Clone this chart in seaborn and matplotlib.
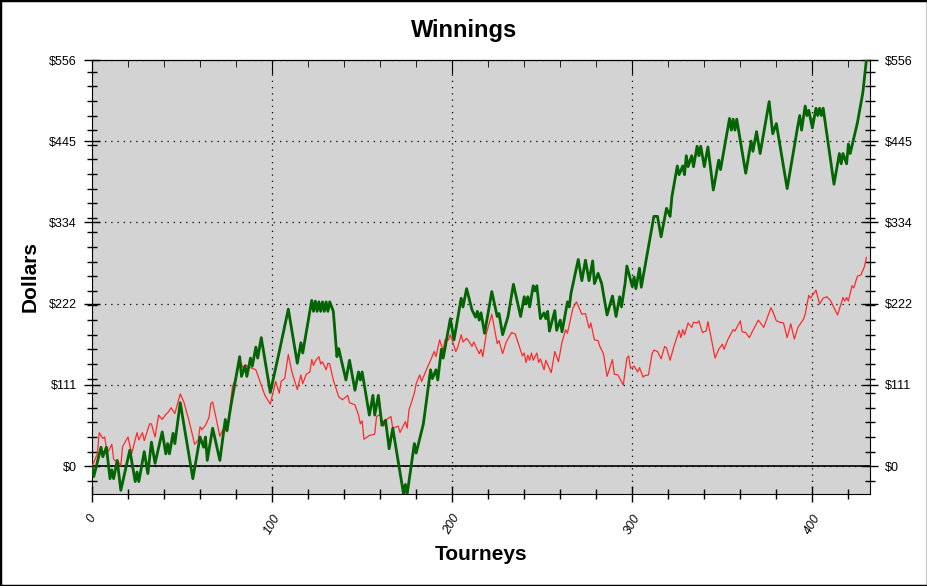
import numpy as np
import pandas as pd
import matplotlib
matplotlib.use('Agg')
import matplotlib.pyplot as plt
import matplotlib.patches as patches
from matplotlib.ticker import MultipleLocator, FixedLocator
import seaborn as sns

# Winnings (tourney number, dollars)
green_t = [0, 1, 5, 6, 8, 10, 11, 12, 14, 16, 21, 24, 25, 26, 29, 31, 33, 35, 39, 41,
           42, 43, 45, 46, 49, 56, 60, 62, 63, 64, 67, 71, 74, 75, 77, 82, 83, 85, 86, 88,
           89, 91, 92, 94, 99, 104, 109, 114, 116, 117, 122, 123, 124, 125, 126, 127, 128, 129, 130, 131,
           132, 134, 136, 137, 138, 141, 143, 146, 148, 149, 150, 154, 156, 157, 159, 161, 163, 165, 167, 173,
           174, 175, 179, 180, 184, 188, 189, 191, 192, 194, 195, 199, 201, 205, 206, 208, 211, 213, 214, 215,
           216, 218, 222, 225, 226, 228, 231, 234, 238, 240, 241, 242, 243, 245, 246, 247, 249, 251, 252, 253,
           254, 257, 258, 260, 261, 264, 265, 266, 270, 272, 274, 276, 278, 279, 281, 283, 286, 289, 291, 293,
           294, 296, 297, 300, 301, 302, 304, 305, 309, 312, 314, 316, 319, 321, 322, 325, 326, 328, 329, 330,
           331, 333, 334, 336, 337, 338, 340, 342, 345, 348, 349, 354, 355, 356, 357, 358, 363, 366, 367, 369,
           371, 376, 378, 380, 386, 392, 393, 394, 396, 397, 398, 400, 402, 403, 404, 405, 406, 412, 415, 416,
           417, 419, 420, 421, 425, 428, 430]
green_v = [0, -14, 26, 13, 26, -17, -5, -17, 8, -33, 22, -21, -8, -21, 20, -10, 33, 4, 47, 17,
           31, 17, 45, 31, 87, -17, 40, 26, 40, 8, 52, 8, 64, 49, 81, 150, 123, 137, 123, 148,
           137, 163, 148, 176, 101, 157, 215, 141, 169, 155, 227, 212, 226, 212, 225, 212, 225, 212, 225, 212,
           225, 212, 150, 161, 150, 118, 145, 104, 129, 118, 129, 70, 97, 70, 97, 56, 63, 24, 52, -38,
           -25, -38, 31, 18, 58, 132, 120, 132, 118, 160, 148, 202, 173, 230, 218, 243, 214, 204, 212, 200,
           210, 182, 239, 205, 209, 180, 205, 249, 205, 232, 222, 232, 218, 247, 240, 247, 202, 210, 202, 212,
           185, 213, 186, 200, 184, 225, 218, 237, 283, 254, 282, 254, 281, 250, 264, 250, 207, 233, 205, 232,
           218, 250, 274, 246, 259, 243, 271, 245, 300, 342, 342, 314, 353, 342, 369, 411, 399, 411, 399, 425,
           410, 425, 410, 438, 425, 438, 410, 437, 378, 419, 406, 476, 460, 475, 460, 475, 401, 445, 431, 458,
           428, 499, 455, 469, 380, 467, 480, 460, 493, 480, 487, 463, 490, 480, 490, 480, 490, 386, 428, 414,
           428, 414, 441, 428, 470, 511, 556]

red_t = [0, 3, 4, 6, 7, 8, 9, 11, 12, 13, 14, 16, 17, 20, 22, 25, 26, 28, 29, 32,
         33, 35, 37, 39, 41, 42, 44, 46, 49, 51, 54, 57, 59, 60, 61, 63, 65, 66, 67, 71,
         73, 75, 78, 80, 82, 84, 85, 87, 89, 91, 92, 93, 96, 99, 102, 104, 105, 107, 109, 111,
         114, 116, 117, 119, 121, 122, 123, 124, 126, 127, 128, 130, 131, 132, 134, 137, 139, 142, 143, 146,
         148, 149, 150, 151, 154, 157, 158, 160, 162, 164, 166, 167, 170, 171, 174, 175, 176, 179, 180, 182,
         183, 186, 188, 190, 191, 193, 195, 196, 198, 199, 202, 203, 205, 206, 208, 209, 211, 212, 215, 216,
         217, 219, 222, 225, 226, 228, 230, 233, 235, 239, 240, 241, 242, 243, 244, 245, 247, 248, 249, 251,
         252, 255, 257, 259, 261, 263, 264, 267, 269, 272, 274, 276, 277, 279, 281, 282, 284, 286, 289, 290,
         292, 295, 297, 298, 299, 301, 303, 304, 306, 307, 309, 311, 312, 314, 316, 318, 319, 321, 323, 326,
         327, 328, 329, 331, 333, 334, 336, 337, 339, 341, 342, 346, 348, 350, 351, 353, 356, 357, 360, 361,
         363, 365, 367, 370, 373, 377, 378, 380, 382, 384, 386, 388, 390, 392, 395, 396, 398, 399, 402, 404,
         406, 408, 410, 414, 417, 418, 419, 420, 422, 423, 425, 427, 429, 430]
red_v = [0, 17, 46, 38, 40, 26, 20, 30, 10, 7, 8, 1, 27, 40, 17, 46, 36, 46, 35, 58,
         58, 40, 70, 64, 71, 73, 80, 72, 99, 88, 61, 30, 36, 54, 50, 56, 67, 86, 88, 41,
         52, 47, 109, 122, 146, 134, 139, 136, 134, 132, 125, 118, 97, 85, 116, 100, 116, 120, 153, 129,
         105, 125, 113, 126, 129, 146, 138, 144, 150, 140, 143, 132, 141, 140, 118, 95, 91, 97, 87, 84,
         70, 58, 62, 37, 42, 44, 68, 71, 55, 65, 68, 52, 55, 46, 61, 52, 77, 100, 113, 125,
         116, 134, 145, 157, 150, 173, 158, 173, 173, 180, 157, 162, 180, 170, 175, 172, 164, 170, 154, 160,
         150, 182, 208, 168, 172, 154, 170, 183, 181, 151, 155, 142, 152, 145, 155, 145, 155, 142, 147, 132,
         145, 128, 157, 143, 170, 187, 182, 216, 225, 208, 209, 189, 196, 173, 172, 164, 154, 123, 146, 126,
         125, 111, 148, 151, 134, 137, 129, 135, 122, 124, 125, 154, 159, 157, 147, 164, 162, 145, 163, 186,
         176, 187, 180, 196, 190, 197, 196, 199, 183, 185, 198, 148, 160, 167, 160, 173, 187, 185, 199, 184,
         183, 176, 186, 200, 190, 217, 212, 199, 197, 196, 176, 195, 174, 190, 201, 208, 234, 230, 241, 222,
         230, 232, 227, 207, 231, 226, 231, 226, 247, 244, 260, 262, 274, 286]

x_ticks = [0, 100, 200, 300, 400]
y_ticks = [0, 111.2, 222.4, 333.6, 444.8, 556]
y_labels = ['$0', '$111', '$222', '$334', '$445', '$556']

sns.set_style('ticks', {'axes.facecolor': '#d3d3d3', 'axes.edgecolor': 'black'})
plt.rcParams['font.family'] = ['Liberation Sans', 'DejaVu Sans']
plt.rcParams.update({'text.color': 'black', 'axes.labelcolor': 'black',
                     'xtick.color': 'black', 'ytick.color': 'black'})

fig = plt.figure(figsize=(9.28, 5.86), dpi=100)
ax = fig.add_axes([92 / 928, 1 - 494 / 586, 778 / 928, 434 / 586])

df_red = pd.DataFrame({'Tourneys': red_t, 'Dollars': red_v})
df_green = pd.DataFrame({'Tourneys': green_t, 'Dollars': green_v})

ax.axhline(0, color='black', lw=1.2, zorder=1.5)
sns.lineplot(data=df_red, x='Tourneys', y='Dollars', color='#ff2a2a', lw=0.9, ax=ax, zorder=3)
sns.lineplot(data=df_green, x='Tourneys', y='Dollars', color='#006400', lw=2.0, ax=ax, zorder=4)

ax.set_xlim(0, 432)
ax.set_ylim(min(green_v), max(green_v))

ax.xaxis.set_major_locator(FixedLocator(x_ticks))
ax.xaxis.set_minor_locator(MultipleLocator(20))
ax.set_yticks(y_ticks, y_labels)
ax.yaxis.set_minor_locator(MultipleLocator(20))

ax.grid(True, which='major', color='black', linestyle=(0, (1, 4)), linewidth=0.9)
ax.tick_params(which='major', direction='inout', length=12, width=1, labelsize=9)
ax.tick_params(which='minor', direction='inout', length=7, width=1)
ax.tick_params(axis='y', right=True, labelright=True, which='both')
ax.tick_params(axis='y', pad=5)
ax.tick_params(axis='x', labelrotation=60, pad=7, labelsize=9)
for lbl in ax.get_xticklabels():
    lbl.set_fontstyle('italic')

top = ax.secondary_xaxis('top')
top.xaxis.set_major_locator(FixedLocator(x_ticks))
top.xaxis.set_minor_locator(MultipleLocator(20))
top.tick_params(which='major', direction='in', length=10, labeltop=False)
top.tick_params(which='minor', direction='in', length=5)

ax.set_xlabel('Tourneys', fontsize=15, fontweight='bold', va='center')
ax.set_ylabel('Dollars', fontsize=15, fontweight='bold', va='center')
ax.xaxis.set_label_coords(0.5, (494 - 555) / 434)
ax.yaxis.set_label_coords((30 - 92) / 778, 0.5)

fig.text(0.5, 1 - 30 / 586, 'Winnings', ha='center', va='center',
         fontsize=17, fontweight='bold')

fig.patches.append(patches.Rectangle((0, 0), 1, 1, transform=fig.transFigure,
                                     fill=False, edgecolor='black', linewidth=2.5))

fig.savefig('out.png', dpi=100)
